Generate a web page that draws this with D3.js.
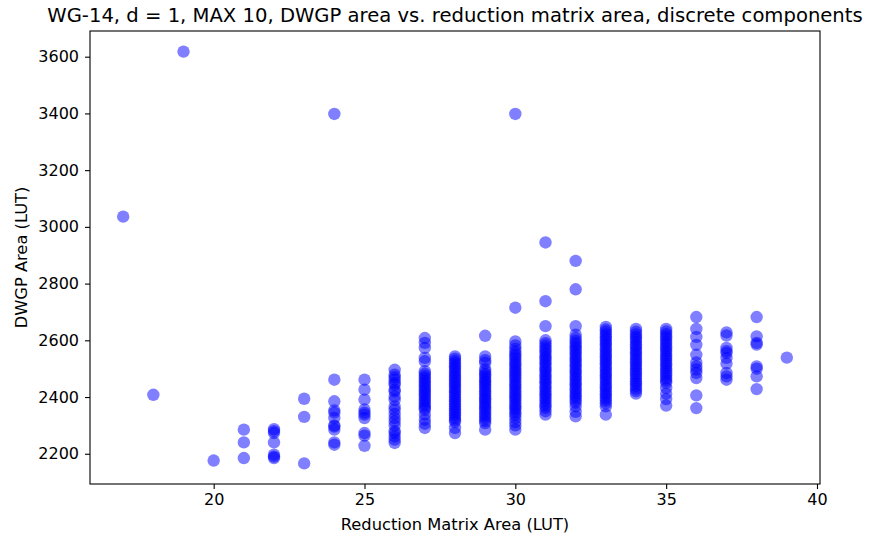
<!DOCTYPE html>
<html>
<head>
<meta charset="utf-8">
<script src="https://cdn.jsdelivr.net/npm/d3@7"></script>
<style>
  body { margin: 0; background: #fff; }
  svg text { font-family: "DejaVu Sans", sans-serif; fill: #000; }
</style>
</head>
<body>
<svg id="chart" width="869" height="542"></svg>
<script>
// reduction matrix area (LUT) columns
const reductionArea = [17, 18, 19, 20, 21, 22, 23, 24, 25, 26, 27, 28, 29, 30, 31, 32, 33, 34, 35, 36, 37, 38, 39];

// DWGP area (LUT) values
const dwgpArea = [
  [3036],
  [2408],
  [3618],
  [2176],
  [2285, 2240, 2185],
  [2287, 2280, 2273, 2240, 2197, 2190, 2185],
  [2394, 2330, 2166],
  [3398, 2461, 2385, 2353, 2345, 2326, 2300, 2296, 2285, 2240, 2232],
  [2461, 2426, 2391, 2356, 2345, 2338, 2326, 2273, 2264, 2228],
  [2496, 2479, 2470, 2461, 2450, 2443, 2426, 2420, 2402, 2390, 2367, 2355, 2340, 2326, 2314, 2300, 2280, 2273, 2261, 2250, 2238],
  [2608, 2591, 2573, 2538, 2526, 2491, 2482, 2474, 2466, 2458, 2450, 2442, 2434, 2426, 2418, 2410, 2402, 2394, 2386, 2378, 2370, 2362, 2355, 2338, 2320, 2306, 2291],
  [2543, 2535, 2527, 2519, 2511, 2503, 2495, 2487, 2479, 2471, 2463, 2455, 2447, 2439, 2431, 2423, 2415, 2407, 2399, 2391, 2383, 2375, 2367, 2359, 2351, 2343, 2335, 2327, 2319, 2312, 2291, 2273],
  [2616, 2543, 2530, 2520, 2498, 2490, 2481, 2475, 2466, 2458, 2452, 2444, 2437, 2428, 2420, 2413, 2405, 2396, 2390, 2381, 2374, 2366, 2358, 2350, 2341, 2333, 2325, 2316, 2308, 2285],
  [3398, 2715, 2596, 2582, 2570, 2560, 2551, 2543, 2535, 2526, 2518, 2510, 2501, 2493, 2486, 2477, 2469, 2461, 2452, 2444, 2437, 2428, 2420, 2411, 2403, 2395, 2387, 2378, 2370, 2362, 2354, 2345, 2337, 2326, 2312, 2300, 2285],
  [2945, 2738, 2650, 2600, 2590, 2581, 2572, 2563, 2555, 2546, 2538, 2530, 2521, 2513, 2504, 2496, 2488, 2479, 2471, 2462, 2454, 2446, 2437, 2429, 2420, 2412, 2404, 2395, 2387, 2378, 2370, 2362, 2350, 2338],
  [2880, 2780, 2650, 2620, 2608, 2598, 2590, 2581, 2573, 2565, 2556, 2548, 2539, 2531, 2523, 2514, 2506, 2497, 2489, 2481, 2472, 2464, 2455, 2447, 2439, 2430, 2422, 2413, 2405, 2397, 2388, 2380, 2367, 2348, 2332],
  [2647, 2638, 2630, 2621, 2613, 2605, 2596, 2588, 2580, 2571, 2563, 2554, 2546, 2538, 2529, 2521, 2513, 2504, 2496, 2487, 2479, 2471, 2462, 2454, 2445, 2437, 2429, 2420, 2412, 2404, 2395, 2387, 2378, 2367, 2338],
  [2640, 2630, 2621, 2612, 2604, 2595, 2586, 2578, 2569, 2560, 2552, 2543, 2534, 2526, 2517, 2508, 2500, 2491, 2482, 2474, 2465, 2456, 2448, 2439, 2430, 2421, 2412],
  [2640, 2631, 2622, 2614, 2605, 2596, 2588, 2579, 2570, 2562, 2553, 2544, 2536, 2527, 2518, 2510, 2501, 2492, 2484, 2475, 2466, 2458, 2450, 2432, 2412, 2393, 2370],
  [2682, 2640, 2612, 2584, 2549, 2522, 2508, 2497, 2485, 2467, 2406, 2361],
  [2628, 2617, 2573, 2562, 2555, 2538, 2518, 2485, 2473, 2461],
  [2682, 2614, 2591, 2585, 2508, 2500, 2473, 2428],
  [2539]
];

const xTicks = [20, 25, 30, 35, 40];
const yTicks = [2200, 2400, 2600, 2800, 3000, 3200, 3400, 3600];

const titleText = "WG-14, d = 1, MAX 10, DWGP area vs. reduction matrix area, discrete components";
const xLabel = "Reduction Matrix Area (LUT)";
const yLabel = "DWGP Area (LUT)";

// flatten into points
let points = [];
reductionArea.forEach(function(x, i){
  dwgpArea[i].forEach(function(y){
    points.push({x: x, y: y});
  });
});

const plotLeft = 90, plotRight = 820, plotTop = 31, plotBottom = 484;

// matplotlib style 5% margins
let xExt = d3.extent(points, d => d.x);
let yExt = d3.extent(points, d => d.y);
let xPad = (xExt[1] - xExt[0]) * 0.05;
let yPad = (yExt[1] - yExt[0]) * 0.05;

let x = d3.scaleLinear().domain([xExt[0] - xPad, xExt[1] + xPad]).range([plotLeft, plotRight]);
let y = d3.scaleLinear().domain([yExt[0] - yPad, yExt[1] + yPad]).range([plotBottom, plotTop]);

let svg = d3.select("#chart");

svg.append("g")
  .selectAll("circle")
  .data(points)
  .enter()
  .append("circle")
  .attr("cx", d => x(d.x))
  .attr("cy", d => y(d.y))
  .attr("r", 6.2)
  .style("fill", "#0000ff")
  .style("fill-opacity", 0.5);

// axes
let xAxis = svg.append("g")
  .attr("transform", "translate(0," + plotBottom + ")")
  .call(d3.axisBottom(x).tickValues(xTicks).tickSize(5).tickPadding(5).tickFormat(d3.format("d")));

let yAxis = svg.append("g")
  .attr("transform", "translate(" + plotLeft + ",0)")
  .call(d3.axisLeft(y).tickValues(yTicks).tickSize(5).tickPadding(6).tickFormat(d3.format("d")));

[xAxis, yAxis].forEach(function(a){
  a.select(".domain").remove();
  a.selectAll(".tick line").attr("stroke", "#000").attr("stroke-width", 1.1);
  a.selectAll(".tick text").style("font-size", "16px").style("font-family", "DejaVu Sans, sans-serif");
});

// frame
svg.append("rect")
  .attr("x", plotLeft).attr("y", plotTop)
  .attr("width", plotRight - plotLeft).attr("height", plotBottom - plotTop)
  .style("fill", "none").style("stroke", "#000").style("stroke-width", 1.1);

svg.append("text")
  .attr("x", (plotLeft + plotRight) / 2).attr("y", 22)
  .attr("text-anchor", "middle")
  .style("font-size", "19.6px")
  .text(titleText);

svg.append("text")
  .attr("x", (plotLeft + plotRight) / 2).attr("y", 530)
  .attr("text-anchor", "middle")
  .style("font-size", "16.3px")
  .text(xLabel);

svg.append("text")
  .attr("transform", "translate(27," + ((plotTop + plotBottom) / 2) + ") rotate(-90)")
  .attr("text-anchor", "middle")
  .style("font-size", "16.3px")
  .text(yLabel);
</script>
</body>
</html>
